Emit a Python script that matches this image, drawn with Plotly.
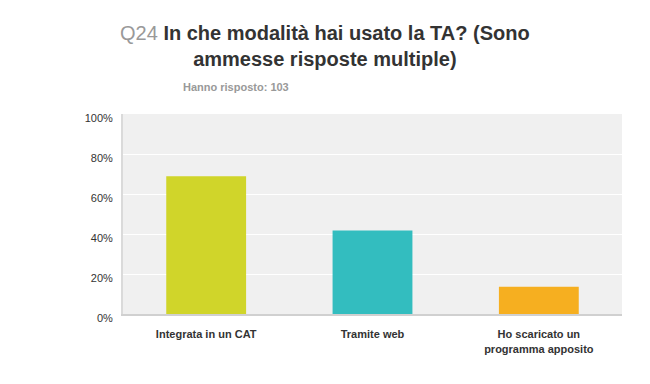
import plotly.graph_objects as go

categories = ["Integrata in un CAT", "Tramite web", "Ho scaricato un<br>programma apposito"]
values = [68.93, 41.75, 13.59]
colors = ["#D0D52A", "#33BDBF", "#F6AF20"]
tick_vals = [0, 20, 40, 60, 80, 100]
tick_text = ["0%", "20%", "40%", "60%", "80%", "100%"]

fig = go.Figure(go.Bar(x=categories, y=values, marker=dict(color=colors, line=dict(width=0)),
                       hoverinfo="skip"))

font = "Arial, Liberation Sans, sans-serif"
fig.update_layout(
    width=650, height=384,
    margin=dict(l=115, r=36, t=106, b=78),
    paper_bgcolor="white", plot_bgcolor="#F0F0F0",
    bargap=0.52, showlegend=False,
    font=dict(family=font, color="#333333", size=11),
    xaxis=dict(showgrid=False, showline=True, linecolor="#D0D0D0", linewidth=2,
               tickmode="array", tickvals=categories,
               ticktext=["<b>" + c + "</b>" for c in categories],
               tickfont=dict(family=font, size=11, color="#333333"), ticks="",
               ticklabelstandoff=9, fixedrange=True),
    yaxis=dict(range=[0, 100], tickvals=tick_vals, ticktext=tick_text,
               showgrid=True, gridcolor="white", gridwidth=1, zeroline=False,
               showline=True, linecolor="#DADADA", linewidth=2,
               tickfont=dict(family=font, size=11, color="#333333"), ticks="",
               ticklabelstandoff=6, ticklabelshift=4, fixedrange=True),
    annotations=[
        dict(text="<span style='color:#999999'>Q24</span> <b>In che modalità hai usato la TA? (Sono<br>ammesse risposte multiple)</b>",
             xref="paper", yref="paper", x=(325 - 123) / 499, y=1, xanchor="center", yanchor="bottom",
             yshift=42, showarrow=False, align="center",
             font=dict(family=font, size=20, color="#333333")),
        dict(text="<b>Hanno risposto: 103</b>", xref="paper", yref="paper",
             x=(181 - 123) / 499, y=1, xanchor="left", yanchor="bottom", yshift=19,
             showarrow=False, font=dict(family=font, size=11, color="#999999")),
    ],
)
fig.write_html("out.html")
